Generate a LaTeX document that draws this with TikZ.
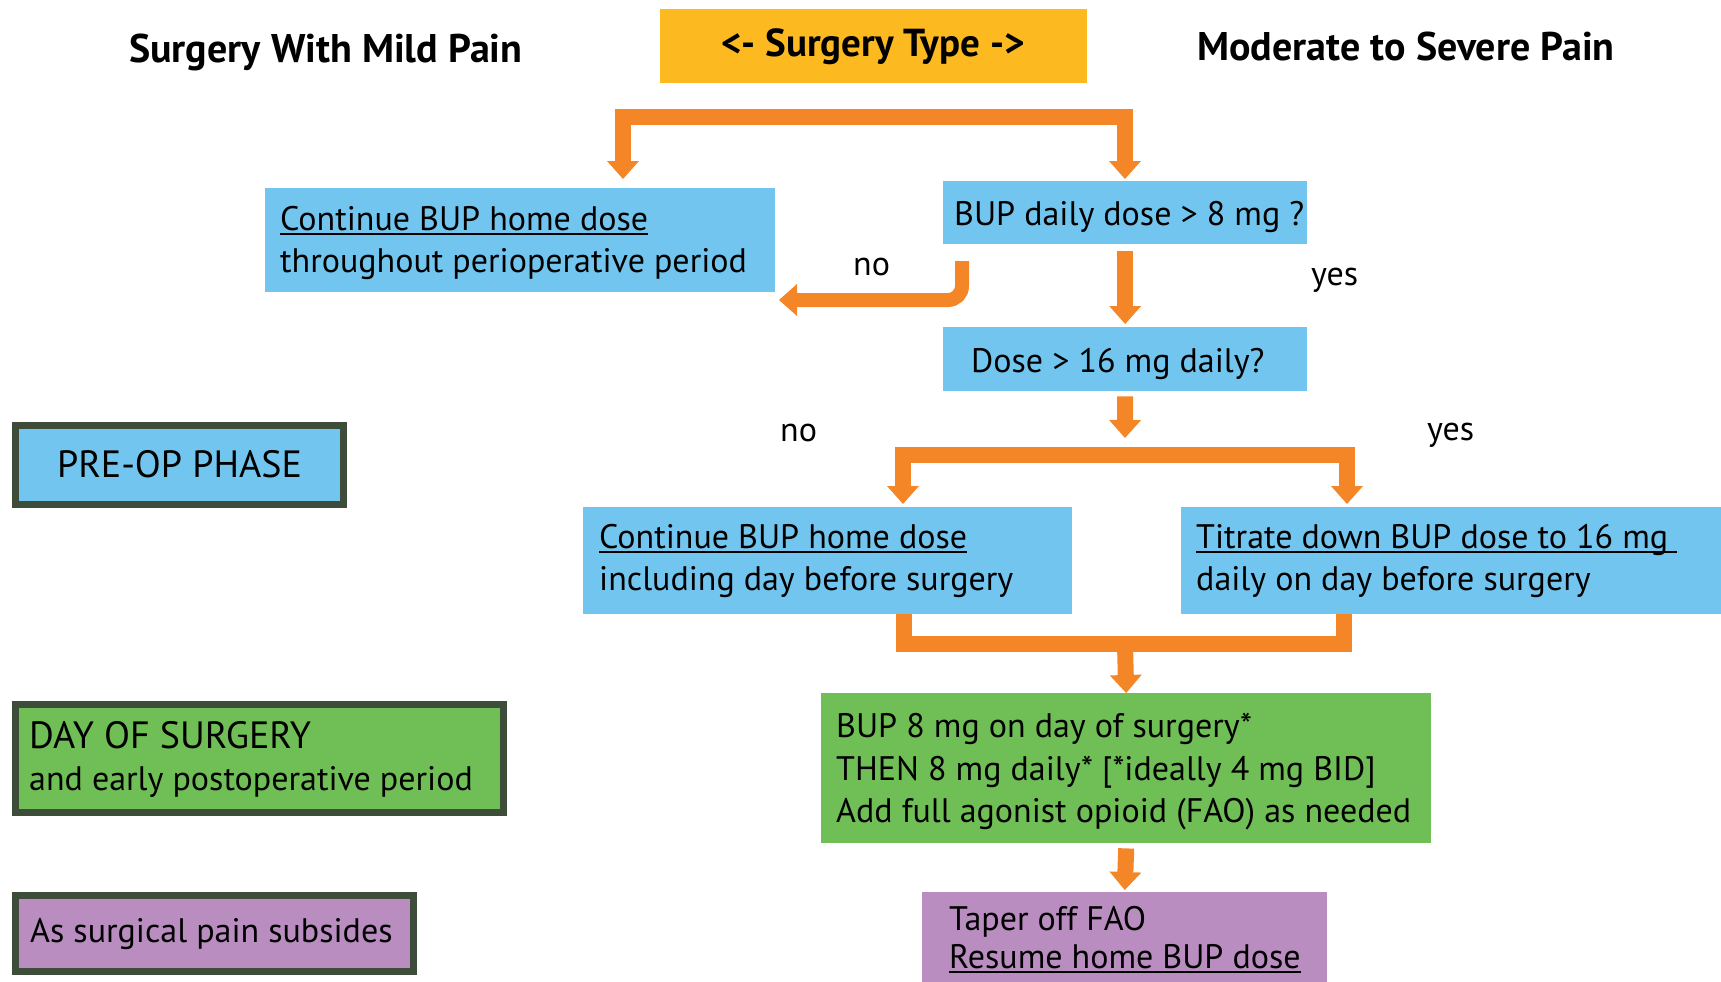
\documentclass[tikz,border=0pt]{standalone}
\usepackage{fontspec}
\setmainfont{PT Sans}
\usetikzlibrary{arrows.meta}
\definecolor{cblue}{HTML}{72C5EE}
\definecolor{cgreen}{HTML}{70BF56}
\definecolor{cpurple}{HTML}{B98DC0}
\definecolor{cyellow}{HTML}{FDB920}
\definecolor{corange}{HTML}{F58628}
\definecolor{cdark}{HTML}{3E4D3A}
\newcommand\myul[1]{\setbox0\hbox{#1}\rlap{\rule[-5pt]{\wd0}{1.8pt}}\box0}
\begin{document}
\begin{tikzpicture}[x=1pt,y=-1pt,
  box/.style={rectangle, anchor=north west, inner sep=0pt, draw=none},
  leg/.style={rectangle, inner sep=0pt, draw=cdark, line width=7pt},
  txt/.style={anchor=base west, inner sep=0pt, font=\fontsize{34}{40}\selectfont},
  hdr/.style={anchor=base west, inner sep=0pt, font=\fontsize{40}{48}\selectfont\bfseries},
  bar/.style={draw=corange, line width=16pt, line join=miter, line cap=butt},
  arr/.style={bar, -{Triangle[width=32pt,length=18pt,line width=0pt]}},
  arrtwo/.style={bar, {Triangle[width=32pt,length=18pt,line width=0pt]}-{Triangle[width=32pt,length=18pt,line width=0pt]}}
]
\useasboundingbox (0,0) rectangle (1721,982);

% headers
\node[hdr] (hL) at (129,63) {Surgery With Mild Pain};
\node[hdr] (hR) at (1197,61) {Moderate to Severe Pain};
\node[box, fill=cyellow, minimum width=426.5pt, minimum height=73.7pt] (st) at (660,9.3) {};
\node[anchor=base, inner sep=0pt, font=\fontsize{39}{46}\selectfont\bfseries] (stT) at (873,57) {<- Surgery Type ->};

% boxes
\node[box, fill=cblue, minimum width=510pt, minimum height=104pt] (b1) at (265,188) {};
\node[box, fill=cblue, minimum width=364pt, minimum height=63pt] (b2) at (943,181) {};
\node[box, fill=cblue, minimum width=364pt, minimum height=64pt] (b3) at (943,327) {};
\node[box, fill=cblue, minimum width=489pt, minimum height=107pt] (b4) at (583,507) {};
\node[box, fill=cblue, minimum width=560pt, minimum height=107pt] (b5) at (1181,507) {};
\node[box, fill=cgreen, minimum width=610pt, minimum height=150pt] (b6) at (821,693) {};
\node[box, fill=cpurple, minimum width=405pt, minimum height=110pt] (b7) at (922,892) {};

% box texts
\node[txt] (b1a) at (280,230) {\myul{Continue BUP home dose}};
\node[txt] (b1b) at (280,272) {throughout perioperative period};
\node[txt] (b2a) at (954,225) {BUP daily dose > 8 mg ?};
\node[txt] (b3a) at (971,372) {Dose > 16 mg daily?};
\node[txt] (b4a) at (599,548) {\myul{Continue BUP home dose}};
\node[txt] (b4b) at (599,590) {including day before surgery};
\node[txt] (b5a) at (1196,548) {\myul{Titrate down BUP dose to 16 mg\ }};
\node[txt] (b5b) at (1196,590) {daily on day before surgery};
\node[txt] (b6a) at (836,737) {BUP 8 mg on day of surgery*};
\node[txt] (b6b) at (836,780) {THEN 8 mg daily* [*ideally 4 mg BID]};
\node[txt] (b6c) at (836,822) {Add full agonist opioid (FAO) as needed};
\node[txt] (b7a) at (949,930) {Taper off FAO};
\node[txt] (b7b) at (949,968) {\myul{Resume home BUP dose}};

% legend
\node[leg, fill=cblue, minimum width=328pt, minimum height=79pt] (pre) at (179.5,465) {};
\node[anchor=base, inner sep=0pt, font=\fontsize{38}{46}\selectfont] (preT) at (179.5,477) {PRE-OP PHASE};
\node[leg, fill=cgreen, minimum width=488pt, minimum height=108pt] (day) at (259.5,758.5) {};
\node[txt, font=\fontsize{38}{46}\selectfont] (dayA) at (29,748) {DAY OF SURGERY};
\node[txt] (dayB) at (29,790) {and early postoperative period};
\node[leg, fill=cpurple, minimum width=398pt, minimum height=76pt] (as) at (214.5,933.5) {};
\node[txt, font=\fontsize{34}{40}\selectfont] (asT) at (30,942) {As surgical pain subsides};

% labels
\node[txt] (no1) at (853,275) {no};
\node[txt] (yes1) at (1311,285) {yes};
\node[txt] (no2) at (780,441) {no};
\node[txt] (yes2) at (1427,440) {yes};

% connectors
\coordinate (tL) at (623,179);
\coordinate (tR) at (1125,179);
\coordinate (tbar) at (0,117);
\draw[arrtwo] (tL) |- (tR |- tbar) -- (tR);

\coordinate (nS) at (962,261);
\coordinate (nE) at (779,300);
\draw[arr, line width=14pt, rounded corners=14pt] (nS) |- (nE);

\draw[arr, shorten >=3pt] ([yshift=-7pt]b2.south) -- (b3.north);

\coordinate (sp) at (1125,438);
\draw[arr] ([yshift=-5pt]b3.south) -- (sp);

\coordinate (sL) at (903,504);
\coordinate (sR) at (1347,504);
\coordinate (sbar) at (0,455);
\draw[arrtwo] (sL) |- (sR |- sbar) -- (sR);

\coordinate (mL) at (904,614);
\coordinate (mR) at (1344,614);
\coordinate (mbar) at (1125,644);
\draw[bar] (mL) |- (mR |- mbar) -- (mR);
\draw[arr] (mbar) -- (b6.north);

\draw[arr, shorten >=2pt] ([yshift=-5pt]b6.south) -- (b7.north);
\end{tikzpicture}
\end{document}
